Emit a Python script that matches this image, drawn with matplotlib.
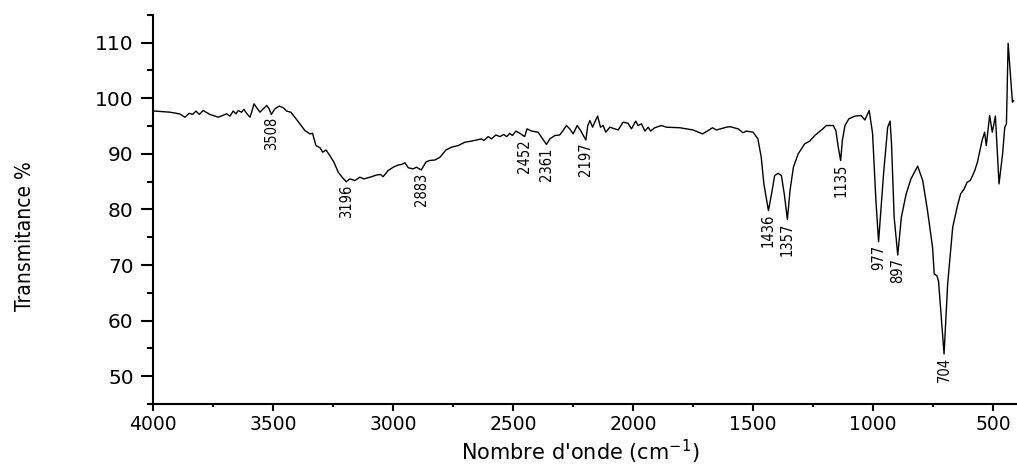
import numpy as np
import matplotlib
matplotlib.use('Agg')
import matplotlib.pyplot as plt
from matplotlib.ticker import MultipleLocator
from matplotlib import font_manager

# spectre IR (nombre d'onde, transmittance)
wn = [4000, 3993, 3960, 3931, 3890, 3868, 3850, 3836, 3822, 3808, 3792, 3764, 3729,
      3694, 3680, 3667, 3655, 3646, 3632, 3622, 3611, 3597, 3590, 3580, 3569, 3555,
      3542, 3527, 3517, 3508, 3493, 3475, 3458, 3444, 3427, 3410, 3389, 3368, 3347,
      3336, 3322, 3305, 3294, 3280, 3264, 3247, 3229, 3211, 3196,
      3180, 3160, 3139, 3122, 3097, 3069, 3053, 3042, 3021, 3000, 2979, 2965, 2951,
      2937, 2917, 2903, 2883, 2864, 2850, 2826, 2805, 2780, 2757, 2729, 2701, 2673,
      2652, 2632, 2622, 2604, 2590, 2572, 2555, 2539, 2527, 2514, 2503, 2489, 2472,
      2452, 2442, 2423, 2396, 2382, 2361, 2347, 2326, 2306, 2292, 2278, 2264, 2250,
      2233, 2219, 2197, 2189, 2180, 2169, 2160, 2148, 2136, 2125, 2114, 2097, 2076,
      2062, 2042, 2021, 2007, 1989, 1979, 1965, 1951, 1937, 1927, 1910, 1882, 1861,
      1805, 1750, 1711, 1687, 1669, 1653, 1611, 1597, 1562, 1542, 1528, 1500,
      1480, 1466, 1455, 1436, 1423, 1410, 1396, 1382, 1370, 1357, 1346, 1332, 1312,
      1285, 1264, 1243, 1215, 1194, 1166, 1155, 1145, 1135, 1128, 1117, 1101, 1075,
      1050, 1034, 1016, 1002, 988, 977, 956, 939, 929, 923, 912, 897,
      882, 862, 842, 814, 793, 773, 752, 745, 734, 727, 704, 689, 668, 648, 635,
      620, 608, 595, 585, 576, 565, 556, 545, 535, 528, 514, 503, 490, 475, 460,
      451, 444, 437, 419, 414]
trans = [97.7, 97.7, 97.6, 97.5, 97.2, 96.6, 97.3, 97.1, 97.7, 97.1, 97.8, 97.1, 96.6,
         97.2, 96.8, 97.7, 97.2, 97.8, 97.5, 98.0, 97.3, 96.6, 97.5, 99.0, 98.3, 97.5,
         98.1, 98.7, 98.1, 97.1, 98.1, 98.6, 98.3, 97.7, 97.5, 96.6, 95.4, 94.2, 93.6,
         93.7, 91.5, 91.1, 90.3, 90.7, 89.7, 88.5, 86.7, 85.7, 85.0,
         85.5, 85.2, 85.8, 85.5, 85.8, 86.2, 86.3, 85.9, 87.0, 87.6, 88.0, 88.1, 88.4,
         87.5, 87.3, 87.6, 87.1, 88.5, 88.8, 88.9, 89.4, 90.7, 91.2, 91.5, 92.1, 92.3,
         92.5, 92.7, 92.4, 93.1, 92.7, 93.4, 93.1, 93.5, 93.1, 93.7, 93.3, 94.1, 93.7,
         93.1, 94.5, 94.1, 93.9, 93.0, 91.7, 92.7, 93.3, 93.4, 94.2, 95.1, 94.5, 93.6,
         95.1, 94.2, 92.5, 95.1, 96.0, 94.8, 95.7, 96.8, 94.8, 95.1, 93.9, 94.8, 94.5,
         94.3, 95.7, 95.5, 94.5, 95.9, 95.1, 95.4, 94.1, 94.8, 94.1, 94.7, 95.1, 94.8,
         94.7, 94.3, 93.6, 94.2, 94.7, 94.3, 94.8, 94.9, 94.5, 93.8, 94.1, 93.9,
         92.7, 89.4, 84.6, 79.8, 82.8, 86.1, 86.5, 86.1, 82.8, 78.2, 83.4, 87.6, 90.0,
         91.8, 92.3, 93.3, 94.3, 95.1, 95.1, 94.2, 91.2, 88.8, 92.4, 95.1, 96.3, 96.8,
         96.9, 96.1, 97.8, 93.7, 81.6, 74.2, 86.5, 94.8, 95.9, 91.8, 78.6, 71.8,
         78.6, 82.8, 85.5, 87.8, 85.2, 79.8, 73.2, 68.4, 68.1, 67.1, 54.0, 66.6, 76.8,
         80.7, 82.8, 83.7, 84.9, 85.2, 86.1, 87.0, 88.5, 90.3, 92.5, 93.9, 91.5, 96.9,
         93.9, 96.8, 84.6, 90.0, 94.8, 95.4, 109.9, 99.3, 99.6]

# bandes annotees
peaks = [3508, 3196, 2883, 2452, 2361, 2197, 1436, 1357, 1135, 977, 897, 704]


# police etroite si disponible (type Arial Narrow)
def narrow_font(size):
    good = []
    for f in font_manager.fontManager.ttflist:
        st = f.stretch
        cond = ('Narrow' in f.name or 'Condensed' in f.name
                or st in ('condensed', 'semi-condensed', 'extra-condensed', 'ultra-condensed')
                or (isinstance(st, int) and st < 100))
        if cond and f.style == 'normal' and f.weight in (400, 'normal', 'regular'):
            good.append(f)
    good.sort(key=lambda f: (0 if 'Liberation' in f.name else 1 if 'Noto' in f.name else 2))
    if good:
        return font_manager.FontProperties(fname=good[0].fname, size=size)
    return font_manager.FontProperties(family='DejaVu Sans', size=size)


fig = plt.figure(figsize=(10.17, 4.66), dpi=100)
ax = fig.add_axes([0.1507, 0.133, 0.8493, 0.835])

ax.plot(wn, trans, color='black', linewidth=1.0)

# etiquettes des pics (verticales, sous le minimum)
x_asc = np.array(wn[::-1])
y_asc = np.array(trans[::-1])
for p in peaks:
    yp = np.interp(p, x_asc, y_asc)
    ax.annotate(str(p), xy=(p, yp), xytext=(0, -2), textcoords='offset points',
                rotation=90, ha='center', va='top', fontproperties=narrow_font(10.5))

ax.set_xlim(4000, 400)
ax.set_ylim(45, 115)
ax.set_xticks([4000, 3500, 3000, 2500, 2000, 1500, 1000, 500])
ax.set_yticks([50, 60, 70, 80, 90, 100, 110])
ax.xaxis.set_minor_locator(MultipleLocator(250))
ax.yaxis.set_minor_locator(MultipleLocator(5))

for s in ['top', 'right']:
    ax.spines[s].set_visible(False)
for s in ['left', 'bottom']:
    ax.spines[s].set_linewidth(1.5)

ax.tick_params(axis='x', which='major', direction='out', length=5, width=1.5, pad=3, labelsize=13.5)
ax.tick_params(axis='x', which='minor', direction='out', length=2.5, width=1.5)
ax.tick_params(axis='y', which='major', direction='out', length=8.6, width=1.5, pad=5.5, labelsize=14.5)
ax.tick_params(axis='y', which='minor', direction='out', length=4.3, width=1.5)

ax.set_xlabel("Nombre d'onde (cm$^{-1}$)", fontsize=15)
ax.xaxis.set_label_coords(0.494, -0.087)
ax.set_ylabel("Transmitance %", fontproperties=narrow_font(15))
ax.yaxis.set_label_coords(-0.137, 0.432)

plt.savefig('out.png', dpi=100)
